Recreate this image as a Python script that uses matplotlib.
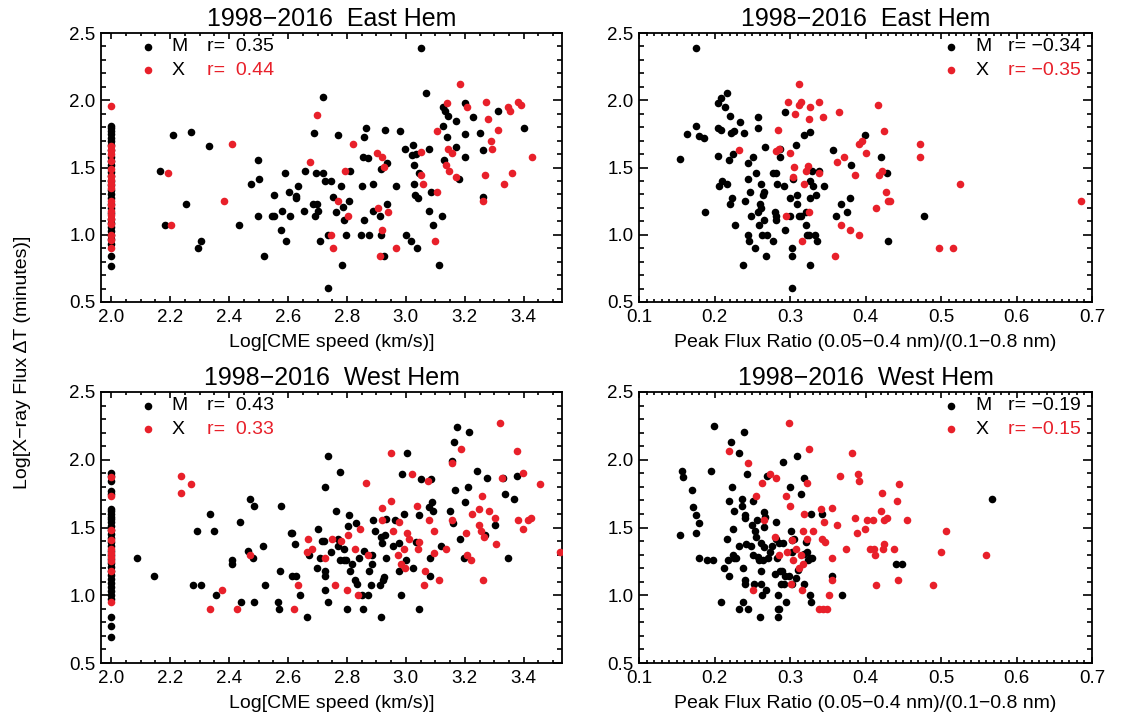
import numpy as np
import matplotlib
matplotlib.use("Agg")
import matplotlib.pyplot as plt
from matplotlib.ticker import MultipleLocator

plt.rcParams['font.family'] = ['Liberation Sans', 'DejaVu Sans']
plt.rcParams['axes.linewidth'] = 1.3

RED = '#e8202a'

# ---- East hemisphere, CME speed ----
east_speed_m_x = [2.0]*30 + [
    2.166, 2.181, 2.211, 2.255, 2.270, 2.294, 2.304, 2.331, 2.432, 2.474, 2.499, 2.502, 2.499,
    2.517, 2.544, 2.551, 2.553, 2.576, 2.581, 2.590, 2.594, 2.603, 2.605, 2.627, 2.628, 2.634,
    2.655, 2.658, 2.684, 2.689, 2.692, 2.694, 2.697, 2.701, 2.710, 2.718, 2.720, 2.726, 2.737,
    2.745, 2.737, 2.754, 2.763, 2.771, 2.780, 2.782, 2.785, 2.790, 2.797, 2.806, 2.811, 2.846,
    2.852, 2.855, 2.857, 2.859, 2.866, 2.870, 2.875, 2.890, 2.890, 2.911, 2.917, 2.917, 2.926,
    2.929, 2.936, 2.937, 2.968, 2.979, 2.997, 2.999, 3.018, 3.020, 3.025, 3.026, 3.027, 3.030,
    3.036, 3.039, 3.041, 3.044, 3.050, 3.067, 3.078, 3.080, 3.084, 3.093, 3.112, 3.123, 3.126,
    3.127, 3.129, 3.132, 3.138, 3.144, 3.170, 3.171, 3.179, 3.200, 3.200, 3.200, 3.227, 3.251,
    3.261, 3.261, 3.312, 3.400]
east_speed_m_y = [
    1.81, 1.79, 1.77, 1.75, 1.72, 1.70, 1.67, 1.63, 1.58, 1.55, 1.52, 1.47, 1.44, 1.40, 1.37,
    1.33, 1.30, 1.27, 1.23, 1.20, 1.16, 1.12, 1.09, 1.06, 1.03, 1.00, 0.97, 0.93, 0.84, 0.77] + [
    1.475, 1.076, 1.739, 1.229, 1.761, 0.899, 0.953, 1.660, 1.076, 1.377, 1.554, 1.411, 1.143,
    0.842, 1.143, 1.298, 1.143, 1.037, 1.175, 1.461, 0.953, 1.320, 1.143, 1.291, 1.273, 1.360,
    1.175, 1.475, 1.229, 1.754, 1.143, 1.461, 1.229, 1.175, 0.953, 2.022, 1.461, 1.397, 1.000,
    1.397, 0.601, 1.278, 1.172, 1.739, 1.365, 0.773, 1.204, 1.111, 1.000, 1.254, 1.475, 1.000,
    1.360, 1.579, 1.111, 1.729, 1.791, 1.571, 1.000, 1.377, 1.175, 1.143, 1.488, 1.000, 0.842,
    1.776, 1.229, 1.532, 1.360, 1.768, 1.635, 1.000, 0.953, 1.591, 1.670, 1.517, 1.377, 1.298,
    1.601, 0.899, 1.276, 1.461, 2.389, 2.052, 1.640, 1.175, 1.320, 1.076, 0.773, 1.143, 1.948,
    1.805, 1.554, 1.919, 1.724, 1.884, 1.845, 1.655, 1.411, 1.978, 1.746, 1.579, 1.874, 1.754,
    1.631, 1.278, 1.919, 1.791]
east_speed_x_x = [2.0]*19 + [
    2.192, 2.204, 2.384, 2.409, 2.676, 2.697, 2.745, 2.753, 2.769, 2.793, 2.802, 2.819, 2.902,
    2.907, 2.911, 2.920, 2.920, 2.926, 2.938, 2.968, 3.050, 3.052, 3.058, 3.099, 3.104, 3.105,
    3.135, 3.138, 3.142, 3.147, 3.158, 3.170, 3.185, 3.208, 3.262, 3.268, 3.272, 3.278, 3.289,
    3.294, 3.313, 3.332, 3.347, 3.353, 3.359, 3.381, 3.392, 3.428]
east_speed_x_y = [
    1.96, 1.66, 1.63, 1.60, 1.55, 1.49, 1.44, 1.41, 1.38, 1.35, 1.25, 1.22, 1.18, 1.15, 1.12,
    1.08, 1.00, 0.96, 0.90] + [
    1.461, 1.076, 1.254, 1.677, 1.542, 1.894, 0.998, 0.899, 1.254, 1.475, 1.143, 1.677, 1.611,
    1.200, 0.842, 1.579, 1.037, 1.502, 1.172, 0.899, 1.618, 1.446, 1.377, 0.953, 1.768, 1.320,
    1.520, 1.980, 1.635, 1.475, 1.611, 1.433, 2.123, 1.951, 1.254, 1.446, 1.990, 1.862, 1.697,
    1.640, 1.776, 1.377, 1.951, 1.919, 1.461, 1.990, 1.968, 1.579]

# ---- East hemisphere, peak flux ratio ----
east_ratio_m_x = [
    0.176, 0.154, 0.163, 0.175, 0.180, 0.186, 0.187, 0.204, 0.205, 0.206, 0.205, 0.209, 0.209,
    0.210, 0.214, 0.216, 0.217, 0.219, 0.221, 0.221, 0.222, 0.223, 0.224, 0.226, 0.227, 0.234,
    0.239, 0.240, 0.244, 0.245, 0.244, 0.246, 0.247, 0.249, 0.251, 0.254, 0.255, 0.257, 0.258,
    0.258, 0.260, 0.261, 0.259, 0.262, 0.263, 0.264, 0.266, 0.266, 0.267, 0.268, 0.269, 0.278,
    0.278, 0.280, 0.281, 0.282, 0.282, 0.283, 0.287, 0.287, 0.292, 0.293, 0.294, 0.300, 0.300,
    0.302, 0.302, 0.304, 0.308, 0.309, 0.309, 0.312, 0.314, 0.319, 0.321, 0.321, 0.322, 0.325,
    0.326, 0.327, 0.327, 0.327, 0.329, 0.331, 0.333, 0.335, 0.336, 0.339, 0.345, 0.357, 0.361,
    0.368, 0.376, 0.380, 0.381, 0.399, 0.420, 0.428, 0.430, 0.478, 0.302, 0.238]
east_ratio_m_y = [
    2.389, 1.566, 1.746, 1.805, 1.734, 1.722, 1.172, 1.791, 1.589, 1.360, 1.978, 1.776, 2.020,
    1.397, 1.948, 2.052, 1.377, 1.554, 1.884, 1.229, 1.754, 1.273, 1.599, 1.768, 1.076, 1.842,
    1.754, 1.254, 1.000, 1.530, 1.414, 0.953, 1.320, 1.143, 1.579, 0.899, 1.461, 1.791, 1.874,
    1.172, 1.229, 1.200, 1.076, 1.377, 1.000, 1.298, 1.111, 1.320, 1.650, 0.842, 1.000, 0.953,
    1.461, 1.172, 1.143, 1.461, 1.111, 1.377, 1.579, 1.638, 1.360, 1.914, 1.037, 1.273, 1.143,
    0.899, 0.842, 1.411, 1.665, 1.298, 1.229, 1.143, 1.143, 1.739, 1.172, 1.076, 1.000, 1.000,
    1.273, 1.397, 1.764, 0.773, 1.475, 1.362, 1.000, 1.298, 0.953, 1.475, 1.362, 1.631, 1.143,
    1.229, 1.172, 1.273, 1.517, 1.739, 1.579, 1.461, 0.953, 1.143, 0.601, 0.773]
east_ratio_x_x = [
    0.232, 0.284, 0.282, 0.285, 0.297, 0.295, 0.300, 0.304, 0.305, 0.306, 0.312, 0.312, 0.315,
    0.316, 0.319, 0.321, 0.324, 0.325, 0.325, 0.327, 0.338, 0.339, 0.344, 0.359, 0.362, 0.365,
    0.368, 0.371, 0.379, 0.386, 0.391, 0.392, 0.396, 0.400, 0.414, 0.417, 0.418, 0.422, 0.425,
    0.427, 0.430, 0.432, 0.472, 0.472, 0.498, 0.516, 0.525, 0.686]
east_ratio_x_y = [
    1.631, 1.776, 1.623, 1.640, 1.985, 1.143, 1.611, 1.426, 1.505, 1.897, 2.123, 1.961, 1.985,
    0.953, 1.377, 1.475, 1.512, 1.862, 1.172, 1.951, 1.461, 1.990, 1.874, 0.842, 1.542, 1.916,
    1.076, 1.579, 1.037, 1.446, 1.000, 1.677, 1.697, 1.611, 1.200, 1.966, 1.446, 1.475, 1.768,
    1.320, 1.254, 1.254, 1.677, 1.579, 0.899, 0.899, 1.377, 1.254]

# ---- West hemisphere, CME speed ----
west_speed_m_x = [2.0]*33 + [
    2.088, 2.146, 2.279, 2.290, 2.303, 2.336, 2.347, 2.355, 2.410, 2.411, 2.437, 2.439, 2.463,
    2.472, 2.480, 2.486, 2.483, 2.516, 2.522, 2.566, 2.570, 2.574, 2.575, 2.610, 2.615, 2.615,
    2.624, 2.628, 2.640, 2.665, 2.672, 2.697, 2.700, 2.709, 2.714, 2.723, 2.726, 2.726, 2.725,
    2.726, 2.734, 2.735, 2.745, 2.763, 2.768, 2.771, 2.775, 2.775, 2.790, 2.790, 2.798, 2.799,
    2.802, 2.808, 2.811, 2.816, 2.828, 2.831, 2.835, 2.841, 2.852, 2.854, 2.858, 2.872, 2.875,
    2.880, 2.885, 2.886, 2.887, 2.894, 2.912, 2.915, 2.917, 2.920, 2.923, 2.926, 2.929, 2.931,
    2.934, 2.957, 2.962, 2.978, 2.977, 2.985, 2.988, 2.992, 3.000, 3.005, 3.025, 3.036, 3.043,
    3.045, 3.050, 3.080, 3.082, 3.082, 3.084, 3.089, 3.093, 3.120, 3.151, 3.157, 3.160, 3.162,
    3.168, 3.174, 3.185, 3.199, 3.200, 3.210, 3.213, 3.240, 3.268, 3.276, 3.302, 3.329, 3.337,
    3.348, 3.367, 3.377]
west_speed_m_y = [
    1.90, 1.88, 1.84, 1.77, 1.75, 1.64, 1.62, 1.60, 1.58, 1.56, 1.54, 1.51, 1.48, 1.45, 1.42,
    1.39, 1.36, 1.33, 1.30, 1.27, 1.24, 1.21, 1.18, 1.15, 1.12, 1.09, 1.06, 1.03, 1.00, 0.97,
    0.84, 0.77, 0.69] + [
    1.278, 1.143, 1.076, 1.475, 1.076, 1.601, 1.475, 1.000, 1.259, 1.229, 1.544, 0.953, 1.325,
    1.707, 1.278, 1.660, 0.953, 1.362, 1.076, 0.953, 0.901, 1.177, 1.660, 1.461, 1.461, 1.143,
    1.377, 1.143, 1.000, 0.842, 1.300, 1.202, 1.490, 1.278, 1.397, 1.397, 1.180, 1.143, 1.798,
    1.039, 0.953, 2.025, 1.320, 1.621, 1.414, 1.362, 1.911, 1.259, 1.340, 1.259, 1.259, 0.901,
    1.510, 1.591, 1.177, 1.229, 1.113, 1.530, 1.086, 1.278, 1.000, 0.901, 1.325, 1.000, 1.177,
    1.074, 1.300, 1.229, 1.554, 1.475, 1.074, 0.842, 1.431, 1.389, 1.111, 1.135, 1.443, 1.564,
    1.278, 1.362, 1.554, 1.382, 1.177, 1.000, 1.892, 1.601, 1.259, 2.052, 1.202, 1.394, 0.901,
    1.591, 1.857, 1.653, 1.278, 1.140, 1.857, 1.690, 1.621, 1.362, 1.621, 1.988, 1.530, 2.131,
    1.776, 2.244, 1.414, 1.278, 1.690, 1.798, 2.202, 1.919, 1.443, 1.862, 1.517, 1.869, 1.749,
    1.278, 1.707, 1.882]
west_speed_x_x = [2.0]*10 + [
    2.238, 2.235, 2.269, 2.335, 2.376, 2.428, 2.470, 2.619, 2.633, 2.663, 2.667, 2.682, 2.726,
    2.749, 2.761, 2.781, 2.799, 2.804, 2.828, 2.837, 2.845, 2.865, 2.872, 2.920, 2.920, 2.948,
    2.948, 2.956, 2.974, 2.977, 2.985, 2.994, 2.998, 3.005, 3.011, 3.020, 3.039, 3.042, 3.045,
    3.064, 3.061, 3.075, 3.079, 3.094, 3.097, 3.112, 3.137, 3.157, 3.158, 3.188, 3.205, 3.208,
    3.221, 3.225, 3.248, 3.248, 3.256, 3.259, 3.265, 3.262, 3.283, 3.304, 3.307, 3.321, 3.326,
    3.377, 3.380, 3.399, 3.398, 3.415, 3.425, 3.456, 3.524]
west_speed_x_y = [1.87, 1.73, 1.48, 1.41, 1.34, 1.31, 1.28, 1.25, 1.18, 0.95] + [
    1.882, 1.756, 1.820, 0.901, 1.039, 0.901, 1.300, 0.901, 1.076, 1.320, 1.414, 1.340, 1.278,
    1.414, 1.076, 1.397, 1.039, 1.443, 1.340, 1.000, 1.490, 1.825, 1.300, 1.643, 1.554, 2.052,
    1.697, 1.475, 1.300, 1.542, 1.234, 1.345, 1.202, 1.461, 1.414, 1.897, 1.660, 1.340, 1.394,
    1.177, 1.076, 1.845, 1.554, 1.315, 1.475, 1.111, 1.340, 1.554, 1.973, 2.079, 1.461, 1.300,
    1.259, 1.601, 1.633, 1.517, 1.475, 1.732, 1.431, 1.111, 1.623, 1.567, 1.377, 2.273, 1.862,
    2.061, 1.554, 1.899, 1.490, 1.554, 1.567, 1.820, 1.320]

# ---- West hemisphere, peak flux ratio ----
west_ratio_m_x = [
    0.154, 0.157, 0.158, 0.170, 0.171, 0.175, 0.176, 0.179, 0.179, 0.190, 0.195, 0.198, 0.199,
    0.209, 0.212, 0.217, 0.218, 0.219, 0.219, 0.222, 0.223, 0.224, 0.225, 0.226, 0.226, 0.229,
    0.232, 0.233, 0.233, 0.236, 0.237, 0.238, 0.238, 0.239, 0.240, 0.240, 0.240, 0.240, 0.242,
    0.243, 0.245, 0.248, 0.250, 0.251, 0.251, 0.252, 0.253, 0.255, 0.256, 0.258, 0.259, 0.260,
    0.261, 0.262, 0.262, 0.263, 0.264, 0.265, 0.266, 0.266, 0.267, 0.268, 0.270, 0.271, 0.273,
    0.276, 0.280, 0.281, 0.281, 0.283, 0.284, 0.284, 0.284, 0.285, 0.286, 0.287, 0.288, 0.290,
    0.291, 0.291, 0.292, 0.293, 0.295, 0.299, 0.300, 0.301, 0.302, 0.303, 0.303, 0.305, 0.308,
    0.309, 0.311, 0.314, 0.318, 0.319, 0.319, 0.321, 0.322, 0.324, 0.326, 0.327, 0.328, 0.328,
    0.329, 0.343, 0.356, 0.369, 0.441, 0.449, 0.568]
west_ratio_m_y = [
    1.446, 1.919, 1.874, 1.776, 1.653, 1.461, 1.589, 1.530, 1.278, 1.259, 1.914, 1.259, 2.246,
    0.953, 1.204, 1.414, 1.259, 1.692, 1.143, 2.131, 1.796, 1.300, 1.490, 1.621, 1.278, 1.278,
    1.362, 2.052, 0.901, 1.660, 1.707, 0.953, 1.204, 2.202, 1.081, 1.111, 1.589, 1.567, 1.377,
    1.894, 0.901, 1.362, 1.517, 1.692, 1.300, 1.081, 1.473, 1.431, 1.554, 1.283, 1.259, 0.842,
    1.177, 1.081, 1.382, 1.000, 1.259, 1.357, 1.616, 1.505, 1.579, 1.039, 1.882, 1.278, 1.320,
    1.362, 1.155, 1.542, 1.414, 1.278, 1.000, 0.842, 0.901, 0.901, 1.382, 1.177, 1.081, 1.177,
    1.387, 1.985, 1.081, 1.143, 0.953, 1.143, 1.796, 1.475, 1.320, 1.406, 1.081, 1.414, 1.130,
    2.025, 1.185, 1.746, 1.308, 1.081, 1.862, 1.394, 1.320, 1.259, 1.278, 1.000, 0.953, 1.601,
    1.278, 1.601, 1.143, 1.000, 1.229, 1.229, 1.707]
west_ratio_x_x = [
    0.219, 0.244, 0.251, 0.255, 0.263, 0.265, 0.274, 0.280, 0.282, 0.285, 0.295, 0.296, 0.299,
    0.300, 0.301, 0.303, 0.304, 0.308, 0.312, 0.315, 0.316, 0.317, 0.317, 0.318, 0.322, 0.323,
    0.325, 0.330, 0.338, 0.341, 0.343, 0.345, 0.347, 0.344, 0.349, 0.352, 0.355, 0.355, 0.356,
    0.362, 0.366, 0.374, 0.382, 0.386, 0.389, 0.390, 0.392, 0.399, 0.402, 0.406, 0.410, 0.411,
    0.412, 0.414, 0.421, 0.422, 0.423, 0.424, 0.424, 0.429, 0.438, 0.442, 0.443, 0.445, 0.455,
    0.490, 0.500, 0.507, 0.560]
west_ratio_x_y = [
    2.061, 1.973, 1.039, 1.732, 1.825, 1.554, 1.897, 1.433, 1.862, 1.300, 1.732, 1.320, 2.273,
    1.660, 1.081, 1.406, 1.259, 1.345, 1.204, 1.300, 1.039, 1.475, 1.234, 1.601, 1.825, 1.414,
    2.079, 1.475, 0.901, 1.635, 1.414, 1.542, 1.394, 0.901, 0.901, 1.000, 1.278, 1.111, 1.645,
    1.517, 1.882, 1.340, 2.052, 1.567, 1.461, 1.897, 1.845, 1.490, 1.554, 1.340, 1.554, 1.340,
    1.300, 1.076, 1.621, 1.756, 1.340, 1.377, 1.554, 1.567, 1.340, 1.697, 1.111, 1.820, 1.554,
    1.076, 1.320, 1.475, 1.300]

titles = ['1998\u22122016  East Hem', '1998\u22122016  East Hem',
          '1998\u22122016  West Hem', '1998\u22122016  West Hem']
r_m = ['r=  0.35', 'r= \u22120.34', 'r=  0.43', 'r= \u22120.19']
r_x = ['r=  0.44', 'r= \u22120.35', 'r=  0.33', 'r= \u22120.15']
speed_label = 'Log[CME speed (km/s)]'
ratio_label = 'Peak Flux Ratio (0.05\u22120.4 nm)/(0.1\u22120.8 nm)'

fig = plt.figure(figsize=(11.24, 7.18), dpi=100)

W, H = 1124.0, 718.0
boxes = [(101, 33, 562, 302), (639, 33, 1092, 302),
         (101, 392, 562, 663), (639, 392, 1092, 663)]
panels = [
    (east_speed_m_x, east_speed_m_y, east_speed_x_x, east_speed_x_y, 'speed'),
    (east_ratio_m_x, east_ratio_m_y, east_ratio_x_x, east_ratio_x_y, 'ratio'),
    (west_speed_m_x, west_speed_m_y, west_speed_x_x, west_speed_x_y, 'speed'),
    (west_ratio_m_x, west_ratio_m_y, west_ratio_x_x, west_ratio_x_y, 'ratio'),
]

MS = 30

for i, (box, p) in enumerate(zip(boxes, panels)):
    x0, y0, x1, y1 = box
    ax = fig.add_axes([x0/W, 1 - y1/H, (x1-x0)/W, (y1-y0)/H])
    mx, my, xx, xy, kind = p
    ax.scatter(mx, my, s=MS, color='black', linewidths=0, zorder=3)
    ax.scatter(xx, xy, s=MS, color=RED, linewidths=0, zorder=4)

    if kind == 'speed':
        ax.set_xlim(1.965, 3.53)
        ax.xaxis.set_major_locator(MultipleLocator(0.2))
        ax.xaxis.set_minor_locator(MultipleLocator(0.05))
        ax.set_xlabel(speed_label, fontsize=14, labelpad=6)
        lx = [0.101, 0.153, 0.229]
    else:
        ax.set_xlim(0.1, 0.7)
        ax.xaxis.set_major_locator(MultipleLocator(0.1))
        ax.xaxis.set_minor_locator(MultipleLocator(0.01))
        ax.set_xlabel(ratio_label, fontsize=14, labelpad=6)
        lx = [0.689, 0.742, 0.815]
    ax.xaxis.set_major_formatter(plt.FormatStrFormatter('%.1f'))
    ax.set_ylim(0.5, 2.5)
    ax.yaxis.set_major_locator(MultipleLocator(0.5))
    ax.yaxis.set_minor_locator(MultipleLocator(0.1))
    ax.yaxis.set_major_formatter(plt.FormatStrFormatter('%.1f'))

    ax.tick_params(axis='both', which='both', direction='in', top=True, right=True,
                   width=1.2, labelsize=13.5, colors='black')
    ax.tick_params(axis='x', which='major', length=4, pad=5)
    ax.tick_params(axis='x', which='minor', length=2)
    ax.tick_params(axis='y', which='major', length=6.6, pad=4)
    ax.tick_params(axis='y', which='minor', length=3.3)

    ax.set_title(titles[i], fontsize=18, pad=5)

    # legend rows
    for yy, col, lab, rtxt in [(0.949, 'black', 'M', r_m[i]), (0.862, RED, 'X', r_x[i])]:
        ax.scatter([lx[0]], [yy], s=MS, color=col, linewidths=0,
                   transform=ax.transAxes, clip_on=False, zorder=5)
        ax.text(lx[1], yy, lab, transform=ax.transAxes, fontsize=14,
                va='center', ha='left', color='black')
        ax.text(lx[2], yy, rtxt, transform=ax.transAxes, fontsize=14,
                va='center', ha='left', color=col)

fig.text(0.0196, 0.496, 'Log[X\u2212ray Flux \u0394T (minutes)]', rotation=90,
         fontsize=14, ha='center', va='center')

fig.savefig('out.png', dpi=100)
